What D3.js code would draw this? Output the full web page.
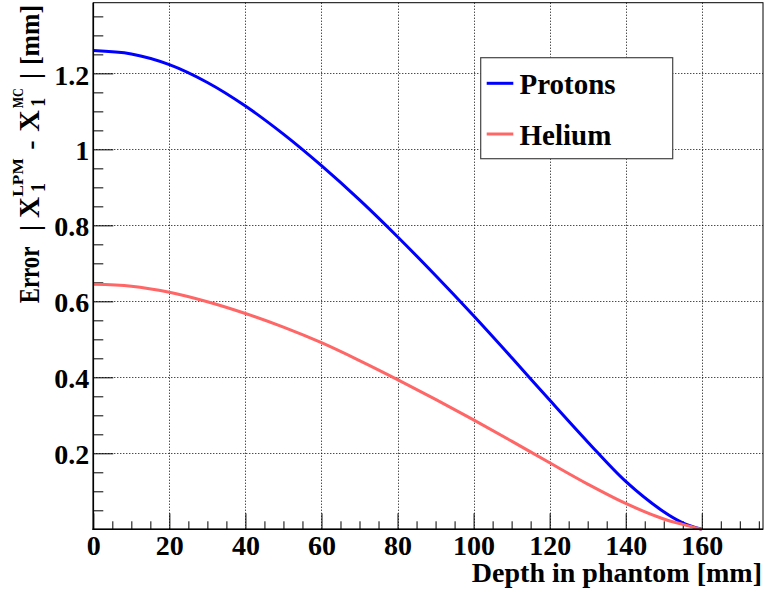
<!DOCTYPE html>
<html>
<head>
<meta charset="utf-8">
<script src="https://cdn.jsdelivr.net/npm/d3@7"></script>
<style>
  html, body { margin: 0; padding: 0; background: #fff; }
  svg { display: block; }
  text { font-family: "Liberation Serif", "Times New Roman", serif; font-weight: bold; fill: #000; }
</style>
</head>
<body>
<svg id="chart" width="764" height="596"></svg>
<script>
// Depth samples along the beam [mm]
const depth   = [0, 10, 20, 30, 40, 50, 60, 70, 80, 90, 100, 110, 120, 130, 140, 150, 155, 160];
// Position error |X1(LPM) - X1(MC)| [mm]
const protons = [1.260, 1.251, 1.223, 1.176, 1.114, 1.040, 0.957, 0.867, 0.770, 0.668, 0.562, 0.452, 0.340, 0.230, 0.126, 0.046, 0.017, 0];
const helium  = [0.645, 0.640, 0.624, 0.599, 0.568, 0.532, 0.491, 0.444, 0.394, 0.342, 0.288, 0.232, 0.175, 0.119, 0.068, 0.027, 0.013, 0];

const seriesNames  = ["Protons", "Helium"];
const seriesColors = ["#0000ff", "#ff6666"];

const xTickValues = [0, 20, 40, 60, 80, 100, 120, 140, 160];
const xTickLabels = ["0", "20", "40", "60", "80", "100", "120", "140", "160"];
const yTickValues = [0.2, 0.4, 0.6, 0.8, 1.0, 1.2];
const yTickLabels = ["0.2", "0.4", "0.6", "0.8", "1", "1.2"];

const svg = d3.select("#chart");

// frame geometry
const fLeft = 93.3, fRight = 763, fTop = 2.7, fBottom = 529.3;

const x = d3.scaleLinear().domain([0, 176.1]).range([fLeft, fRight]);
const y = d3.scaleLinear().domain([0, 1.386]).range([fBottom, fTop]);

// dotted grid
const grid = svg.append("g").attr("stroke", "#000").attr("stroke-width", 1).attr("stroke-dasharray", "1,2");
grid.selectAll("line.gx").data(xTickValues.filter(v => v > 0)).join("line")
  .attr("x1", d => Math.round(x(d)) + 0.5).attr("x2", d => Math.round(x(d)) + 0.5)
  .attr("y1", fTop).attr("y2", fBottom);
grid.selectAll("line.gy").data(yTickValues).join("line")
  .attr("x1", fLeft).attr("x2", fRight)
  .attr("y1", d => Math.round(y(d)) + 0.5).attr("y2", d => Math.round(y(d)) + 0.5);

// minor ticks
const xMinor = d3.range(0, 176, 5).filter(v => v % 20 !== 0);
const yMinor = d3.range(1, 28).map(i => i * 0.05).filter(v => Math.abs(v * 5 - Math.round(v * 5)) > 1e-6);

svg.append("g").attr("transform", `translate(0,${fBottom})`)
  .call(d3.axisBottom(x).tickValues(xMinor).tickSizeInner(-8).tickSizeOuter(0).tickFormat(""))
  .call(g => g.select(".domain").remove())
  .call(g => g.selectAll("line").attr("stroke", "#000"));

svg.append("g").attr("transform", `translate(${fLeft},0)`)
  .call(d3.axisLeft(y).tickValues(yMinor).tickSizeInner(-10).tickSizeOuter(0).tickFormat(""))
  .call(g => g.select(".domain").remove())
  .call(g => g.selectAll("line").attr("stroke", "#000"));

// major ticks with labels
svg.append("g").attr("transform", `translate(0,${fBottom})`)
  .call(d3.axisBottom(x).tickValues(xTickValues).tickSizeInner(-16).tickSizeOuter(0).tickPadding(6)
    .tickFormat((d, i) => xTickLabels[i]))
  .call(g => g.select(".domain").remove())
  .call(g => g.selectAll("line").attr("stroke", "#000"))
  .call(g => g.selectAll("text").attr("font-size", 28).attr("font-family", null).attr("fill", "#000"));

svg.append("g").attr("transform", `translate(${fLeft},0)`)
  .call(d3.axisLeft(y).tickValues(yTickValues).tickSizeInner(-20).tickSizeOuter(0).tickPadding(4)
    .tickFormat((d, i) => yTickLabels[i]))
  .call(g => g.select(".domain").remove())
  .call(g => g.selectAll("line").attr("stroke", "#000"))
  .call(g => g.selectAll("text").attr("font-size", 28).attr("font-family", null).attr("fill", "#000").attr("dy", "0.38em"));

// curves
const line = d3.line().x(d => x(d[0])).y(d => y(d[1])).curve(d3.curveCatmullRom.alpha(0.5));
[protons, helium].forEach((vals, i) => {
  svg.append("path")
    .datum(depth.map((d, k) => [d, vals[k]]))
    .attr("fill", "none")
    .attr("stroke", seriesColors[i])
    .attr("stroke-width", 3)
    .attr("stroke-linejoin", "round")
    .attr("d", line);
});

// frame
svg.append("rect").attr("x", fLeft).attr("y", fTop).attr("width", fRight - fLeft).attr("height", fBottom - fTop)
  .attr("fill", "none").attr("stroke", "#000").attr("stroke-width", 1);
svg.append("line").attr("x1", fLeft).attr("x2", fLeft).attr("y1", fTop).attr("y2", fBottom + 0.8)
  .attr("stroke", "#000").attr("stroke-width", 1.6);
svg.append("line").attr("x1", fLeft - 0.8).attr("x2", fRight).attr("y1", fBottom).attr("y2", fBottom)
  .attr("stroke", "#000").attr("stroke-width", 1.6);

// legend
const lg = svg.append("g");
lg.append("rect").attr("x", 480.7).attr("y", 57.7).attr("width", 192).attr("height", 101)
  .attr("fill", "#fff").attr("stroke", "#444").attr("stroke-width", 1.2);
const legendRows = [{ ly: 83.3, by: 94.3 }, { ly: 134, by: 144.5 }];
seriesNames.forEach((name, i) => {
  lg.append("line").attr("x1", 486.7).attr("x2", 513.3)
    .attr("y1", legendRows[i].ly).attr("y2", legendRows[i].ly)
    .attr("stroke", seriesColors[i]).attr("stroke-width", 3);
  lg.append("text").attr("x", 519.5).attr("y", legendRows[i].by).attr("font-size", 29).text(name);
});

// x-axis title
svg.append("text").attr("x", 762).attr("y", 582).attr("text-anchor", "end")
  .attr("font-size", 28).text("Depth in phantom [mm]");

// y-axis title: Error | X_1^LPM - X_1^MC | [mm], rotated, reading upwards
const yt = svg.append("g").attr("transform", "rotate(-90)");
const piece = (txt, startY, base, size, len, anchor) => {
  const t = yt.append("text").attr("x", -startY).attr("y", base).attr("font-size", size).text(txt);
  if (len) t.attr("textLength", len).attr("lengthAdjust", "spacingAndGlyphs");
  if (anchor) t.attr("text-anchor", anchor);
  return t;
};
piece("Error", 303.3, 39.3, 29, 56.6);
piece("|", 228, 39.3, 28, null, "middle");
piece("X", 218, 39.3, 29, 21);
piece("1", 192, 45, 21, 9);
piece("LPM", 196.7, 23, 14.5, 38.5);
piece("-", 145, 39.3, 28, null, "middle");
piece("X", 131.7, 39.3, 29, 21.5);
piece("1", 106.8, 45, 21, 9);
piece("MC", 108.3, 23, 14.5, 20);
piece("|", 76, 39.3, 28, null, "middle");
piece("[mm]", 65, 39.3, 28, 60);
</script>
</body>
</html>
